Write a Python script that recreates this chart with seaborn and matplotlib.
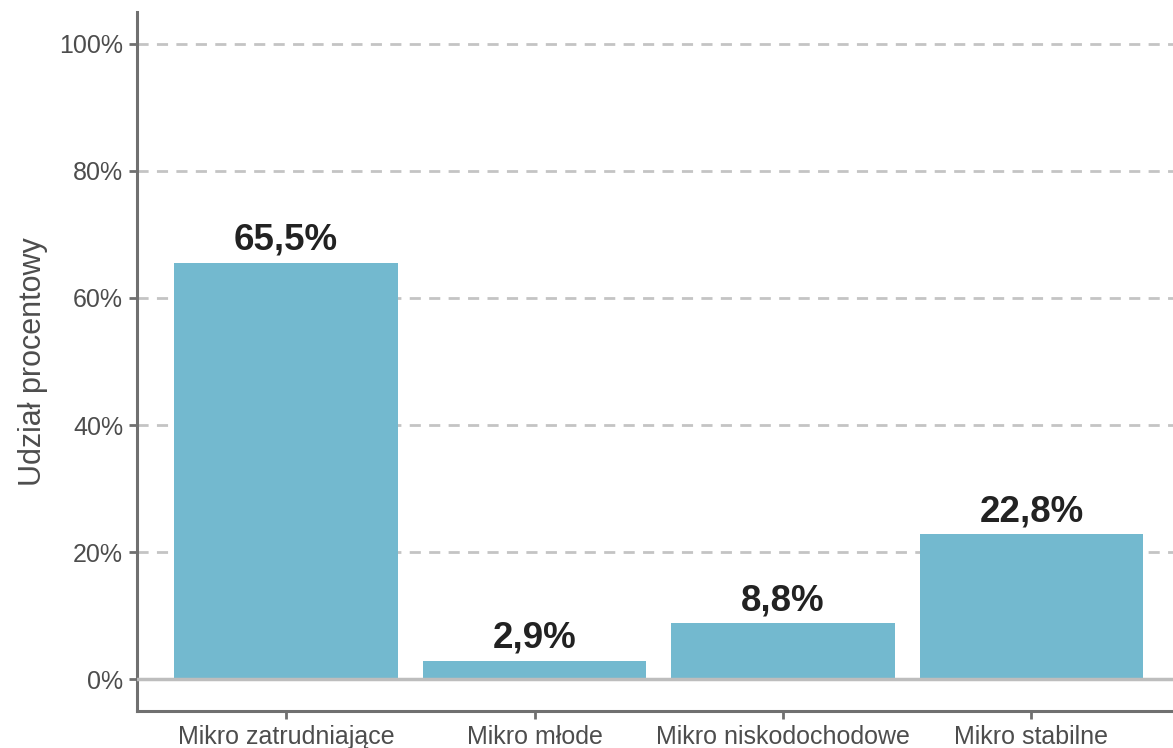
import matplotlib
matplotlib.use("Agg")
import pandas as pd
import seaborn as sns
import matplotlib.pyplot as plt

categories = ["Mikro zatrudniające", "Mikro młode", "Mikro niskodochodowe", "Mikro stabilne"]
shares = [65.5, 2.9, 8.8, 22.8]
value_labels = ["65,5%", "2,9%", "8,8%", "22,8%"]
y_ticks = [0, 20, 40, 60, 80, 100]
y_tick_labels = ["0%", "20%", "40%", "60%", "80%", "100%"]

sns.set_style("white")
plt.rcParams["font.family"] = ["Liberation Sans", "DejaVu Sans"]

df = pd.DataFrame({"kategoria": categories, "udzial": shares})

fig = plt.figure(figsize=(11.73, 7.48), dpi=100)
ax = fig.add_axes([137 / 1173, 37 / 748, 1 - 137 / 1173, (711 - 12) / 748])

sns.barplot(data=df, x="kategoria", y="udzial", color="#73B9CF", width=0.9,
            saturation=1, linewidth=0, ax=ax, zorder=3)

# dashed grid + zero line
for t in y_ticks[1:]:
    ax.axhline(t, color="#c4c4c4", lw=2, ls=(0, (4, 3)), zorder=1)
ax.axhline(0, color="#bdbdbd", lw=2.5, zorder=4)

for i, (v, lab) in enumerate(zip(shares, value_labels)):
    ax.text(i, v + 0.8, lab, ha="center", va="bottom", fontsize=26.5,
            fontweight="bold", color="#222222", zorder=5)

ax.set_xlim(-0.6, 3.57)
ax.set_ylim(-5, 105)
ax.set_yticks(y_ticks)
ax.set_yticklabels(y_tick_labels)
ax.set_xlabel("")
ax.set_ylabel("Udział procentowy", fontsize=22, color="#4d4d4d", labelpad=8)

for side in ["top", "right"]:
    ax.spines[side].set_visible(False)
for side in ["left", "bottom"]:
    ax.spines[side].set_color("#707070")
    ax.spines[side].set_linewidth(2.2)

ax.tick_params(axis="both", length=6, width=2, color="#707070",
               labelsize=18, labelcolor="#4d4d4d", pad=4, left=True, bottom=True)

fig.savefig("out.png", dpi=100)
